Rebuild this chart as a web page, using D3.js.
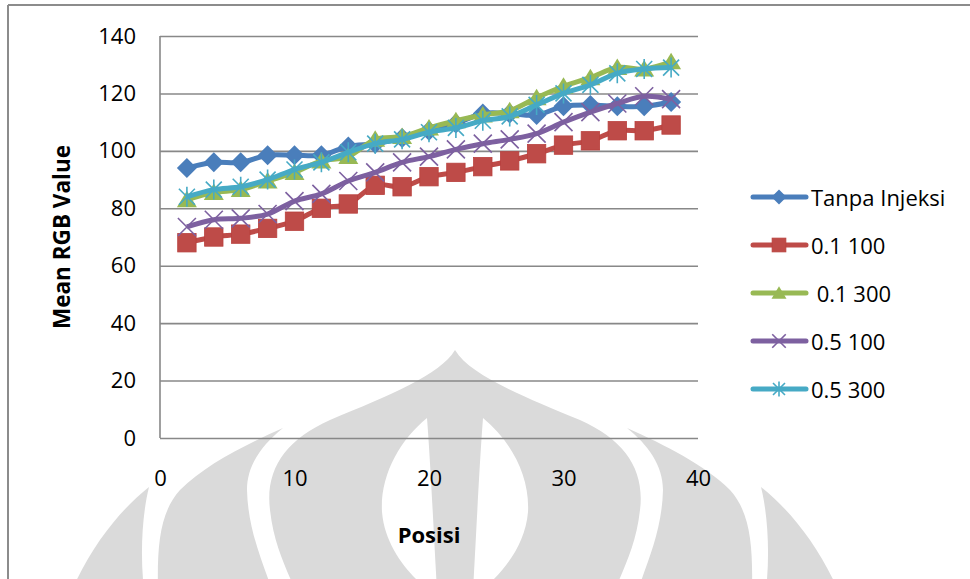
<!DOCTYPE html>
<html>
<head>
<meta charset="utf-8">
<script src="https://cdn.jsdelivr.net/npm/d3@7"></script>
<style>
  html, body { margin: 0; padding: 0; background: #fff; }
  svg { display: block; font-family: "Open Sans", "Noto Sans", sans-serif; }
</style>
</head>
<body>
<svg id="chart" width="970" height="579"></svg>
<script>
// Sampling positions along the specimen
const posisi = [2, 4, 6, 8, 10, 12, 14, 16, 18, 20, 22, 24, 26, 28, 30, 32, 34, 36, 38];

// Mean RGB value per treatment
const tanpaInjeksi = [94, 96, 96, 98.5, 98.5, 98.5, 101.5, 102.5, 104.5, 107, 109.5, 113, 113, 112.5, 115.5, 116, 115.5, 115.5, 117];
const s01_100 = [68, 70, 71, 73, 75.5, 80, 81.5, 88, 87.5, 91, 92.5, 94.5, 96.5, 99, 102, 103.5, 107, 107, 109];
const s01_300 = [83, 85.5, 86.5, 89.5, 92.5, 96.5, 98, 104, 105, 108, 110.5, 112.5, 114, 118.5, 122.5, 125.5, 129, 128.5, 131];
const s05_100 = [73.5, 76, 76.5, 78, 82.5, 85, 89.5, 92.5, 96, 98, 100.5, 102.5, 104, 106, 110, 113.5, 116.5, 119, 118];
const s05_300 = [84, 86.5, 87.5, 90, 93.5, 96, 99.5, 102.5, 104, 106.5, 108, 110.5, 112, 116, 120, 123, 127, 128.5, 129];

const seriesNames = ["Tanpa Injeksi", "0.1 100", " 0.1 300", "0.5 100", "0.5 300"];
const seriesValues = [tanpaInjeksi, s01_100, s01_300, s05_100, s05_300];
const seriesColors = ["#4a7ebb", "#be4b48", "#98b954", "#7d60a0", "#46aac5"];
const seriesMarkers = ["diamond", "square", "triangle", "x", "star"];

const xTicks = [0, 10, 20, 30, 40];
const yTicks = [0, 20, 40, 60, 80, 100, 120, 140];

const svg = d3.select("#chart");
const x = d3.scaleLinear().domain([0, 40]).range([160, 698]);
const y = d3.scaleLinear().domain([0, 140]).range([438, 36]);

// ---- faint emblem in the background ----
const wm = svg.append("g").attr("fill", "#dadada");
const sideLeaves = [
  // main side leaf
  "M283,428 C245,445 205,465 180,490 C160,512 157,545 158,590 L272,590 C262,560 248,530 247,490 C247,465 262,445 283,428 Z",
  // small outer leaf
  "M149,487 C120,510 92,545 72,590 L144,590 C140,555 142,515 149,487 Z"
];
[null, "translate(910,0) scale(-1,1)"].forEach(t => {
  const g = wm.append("g");
  if (t) g.attr("transform", t);
  sideLeaves.forEach(d => g.append("path").attr("d", d));
});
wm.append("path")
  .attr("d", "M455,350 C470,375 520,395 580,420 C625,440 645,470 640,510 C636,545 625,565 615,590 L295,590 C285,565 274,545 270,510 C265,470 285,440 330,420 C390,395 440,375 455,350 Z");
// openings inside the centre dome
const lens = "M427,418 C400,440 380,475 382,512 C385,548 410,575 428,590 L437,590 C434,540 431,470 427,418 Z";
wm.append("path").attr("d", lens).attr("fill", "#fff");
wm.append("path").attr("d", lens).attr("fill", "#fff").attr("transform", "translate(910,0) scale(-1,1)");

// ---- outer frame ----
svg.append("line").attr("x1", 8).attr("x2", 8).attr("y1", 5).attr("y2", 579)
  .attr("stroke", "#8c8c8c").attr("stroke-width", 2);
svg.append("line").attr("x1", 8).attr("x2", 970).attr("y1", 5).attr("y2", 5)
  .attr("stroke", "#8c8c8c").attr("stroke-width", 2);

// ---- gridlines and axes ----
const yAxis = svg.append("g")
  .attr("transform", `translate(${x(0)},0)`)
  .call(d3.axisLeft(y).tickValues(yTicks).tickSize(-(x(40) - x(0))).tickPadding(24));
yAxis.select(".domain").remove();
yAxis.selectAll(".tick line").attr("stroke", "#888").attr("stroke-width", 1.6);
yAxis.selectAll(".tick text").attr("font-size", 22).attr("fill", "#000")
  .attr("font-family", "'Open Sans', sans-serif");

svg.append("line").attr("x1", x(0)).attr("x2", x(0)).attr("y1", y(140)).attr("y2", y(0))
  .attr("stroke", "#888").attr("stroke-width", 1.6);

const xAxis = svg.append("g")
  .attr("transform", `translate(0,${y(0)})`)
  .call(d3.axisBottom(x).tickValues(xTicks).tickSize(0).tickPadding(32));
xAxis.select(".domain").remove();
xAxis.selectAll(".tick text").attr("font-size", 22).attr("fill", "#000")
  .attr("font-family", "'Open Sans', sans-serif");

// axis titles
svg.append("text").attr("x", x(20)).attr("y", 534).attr("text-anchor", "middle")
  .attr("dominant-baseline", "central").attr("font-size", 22).attr("font-weight", "bold")
  .text("Posisi");
svg.append("text").attr("transform", "translate(61,237) rotate(-90)").attr("text-anchor", "middle")
  .attr("dominant-baseline", "central").attr("font-size", 22.5).attr("font-weight", "bold")
  .text("Mean RGB Value");

// ---- marker shapes ----
function marker(sel, type, color, s) {
  const h = s / 2;
  if (type === "diamond") {
    sel.append("path").attr("d", `M0,${-h}L${h},0L0,${h}L${-h},0Z`).attr("fill", color);
  } else if (type === "square") {
    const q = h * 0.92;
    sel.append("rect").attr("x", -q).attr("y", -q).attr("width", 2 * q).attr("height", 2 * q)
      .attr("fill", color).attr("stroke", "#b9403d").attr("stroke-width", 0.8);
  } else if (type === "triangle") {
    sel.append("path").attr("d", `M0,${-h * 0.9}L${h},${h * 0.75}L${-h},${h * 0.75}Z`).attr("fill", color);
  } else if (type === "x") {
    const a = h * 0.9;
    sel.append("path").attr("d", `M${-a},${-a}L${a},${a}M${-a},${a}L${a},${-a}`)
      .attr("stroke", color).attr("stroke-width", 1.6).attr("fill", "none");
  } else if (type === "star") {
    const a = h * 0.8;
    sel.append("path").attr("d", `M${-a},${-a}L${a},${a}M${-a},${a}L${a},${-a}M0,${-h}L0,${h}`)
      .attr("stroke", color).attr("stroke-width", 1.6).attr("fill", "none");
  }
}

// ---- series: smoothed line, then markers ----
const line = d3.line().x(d => x(d[0])).y(d => y(d[1])).curve(d3.curveCatmullRom.alpha(0));
seriesValues.forEach((vals, i) => {
  const pts = posisi.map((p, k) => [p, vals[k]]);
  const g = svg.append("g");
  g.append("path").datum(pts).attr("d", line).attr("fill", "none")
    .attr("stroke", seriesColors[i]).attr("stroke-width", 5).attr("stroke-linejoin", "round");
  g.selectAll("g.m").data(pts).join("g").attr("class", "m")
    .attr("transform", d => `translate(${x(d[0])},${y(d[1])})`)
    .each(function () { marker(d3.select(this), seriesMarkers[i], seriesColors[i], 20); });
});

// ---- legend ----
const legendY = [197, 245, 293, 341, 389];
seriesNames.forEach((name, i) => {
  const g = svg.append("g").attr("transform", `translate(0,${legendY[i]})`);
  g.append("line").attr("x1", 753).attr("x2", 806).attr("stroke", seriesColors[i])
    .attr("stroke-width", 5).attr("stroke-linecap", "round");
  const m = g.append("g").attr("transform", "translate(779,0)");
  marker(m, seriesMarkers[i], seriesColors[i], 15);
  g.append("text").attr("x", 811).attr("y", 0).attr("dominant-baseline", "central")
    .attr("font-size", 22).attr("xml:space", "preserve").style("white-space", "pre").text(name);
});
</script>
</body>
</html>
